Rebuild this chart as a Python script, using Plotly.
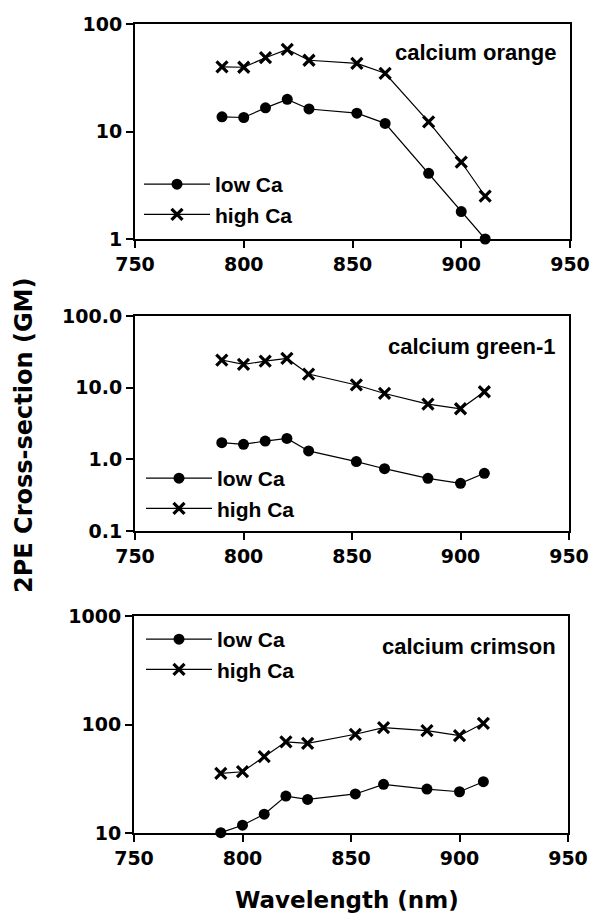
import plotly.graph_objects as go

# Excitation wavelengths (nm)
wavelength = [790, 800, 810, 820, 830, 852, 865, 885, 900, 911]

# Two-photon cross-sections (GM) for each indicator
orange_low = [13.7, 13.5, 16.6, 19.9, 16.2, 14.8, 11.9, 4.08, 1.8, 1.0]
orange_high = [40, 39.6, 48.6, 58, 46, 43, 34.8, 12.3, 5.2, 2.5]
green_low = [1.71, 1.62, 1.80, 1.96, 1.31, 0.93, 0.74, 0.543, 0.462, 0.638]
green_high = [24.3, 21.1, 23.5, 25.6, 15.5, 10.9, 8.3, 5.9, 5.08, 8.77]
crimson_low = [10.07, 11.8, 14.9, 21.9, 20.4, 22.9, 28.1, 25.4, 24.0, 29.7]
crimson_high = [35.5, 36.7, 50.5, 69.3, 67.1, 81.3, 93.5, 87.7, 78.9, 102.6]

panel_names = ["calcium orange", "calcium green-1", "calcium crimson"]
series_names = ["low Ca", "high Ca"]

x_ticks = [750, 800, 850, 900, 950]
y_ticks_orange = [1, 10, 100]
y_labels_orange = ["1", "10", "100"]
y_ticks_green = [0.1, 1, 10, 100]
y_labels_green = ["0.1", "1.0", "10.0", "100.0"]
y_ticks_crimson = [10, 100, 1000]
y_labels_crimson = ["10", "100", "1000"]

W, H = 595, 922


def fx(px):
    return px / W


def fy(px):
    return 1 - px / H


TICK_FONT = dict(family="DejaVu Sans", size=19, color="black", weight="bold")
TEXT_FONT = dict(family="Liberation Sans, Arial", size=22, color="black", weight="bold")
LEGEND_FONT = dict(family="Liberation Sans, Arial", size=21, color="black", weight="bold")

# pixel boxes of the three plot areas (left, right, top, bottom)
boxes = [(135, 570, 24, 239), (135, 569, 316, 531), (134, 568, 616, 833)]
data = [(orange_low, orange_high), (green_low, green_high), (crimson_low, crimson_high)]
yticks = [(y_ticks_orange, y_labels_orange, [0, 2]),
          (y_ticks_green, y_labels_green, [-1, 2]),
          (y_ticks_crimson, y_labels_crimson, [1, 3])]
legend_pos = [(139, 164), (141, 458), (141, 619)]
label_pos = [(558, 53), (558, 346), (558, 646)]

fig = go.Figure()
layout = dict(
    width=W, height=H,
    margin=dict(l=0, r=0, t=0, b=0, autoexpand=False),
    paper_bgcolor="white", plot_bgcolor="white",
    annotations=[],
)

for i, ((low, high), (tv, tt, yr), box) in enumerate(zip(data, yticks, boxes)):
    n = "" if i == 0 else str(i + 1)
    leg = "legend" + n
    xa, ya = "x" + n, "y" + n
    fig.add_trace(go.Scatter(
        x=wavelength, y=low, name=series_names[0], mode="lines+markers",
        xaxis=xa, yaxis=ya, legend=leg, cliponaxis=False,
        line=dict(color="black", width=1.2),
        marker=dict(symbol="circle", size=11, color="black"),
    ))
    fig.add_trace(go.Scatter(
        x=wavelength, y=high, name=series_names[1], mode="lines+markers",
        xaxis=xa, yaxis=ya, legend=leg, cliponaxis=False,
        line=dict(color="black", width=1.2),
        marker=dict(symbol="x-thin", size=11, color="black",
                    line=dict(color="black", width=3.2)),
    ))
    l, r, t, b = box
    layout["xaxis" + n] = dict(
        domain=[fx(l), fx(r)], anchor=ya, range=[750, 950], automargin=False,
        tickvals=x_ticks, ticks="outside", ticklen=7, tickwidth=2,
        tickcolor="black", showline=True, linecolor="black", linewidth=2,
        mirror=True, showgrid=False, zeroline=False, tickfont=TICK_FONT,
    )
    layout["yaxis" + n] = dict(
        domain=[fy(b), fy(t)], anchor=xa, type="log", range=yr, automargin=False,
        tickvals=tv, ticktext=tt, ticks="outside", ticklen=7, tickwidth=2,
        tickcolor="black", showline=True, linecolor="black", linewidth=2,
        mirror=True, showgrid=False, zeroline=False, tickfont=TICK_FONT,
    )
    lx, ly = legend_pos[i]
    layout[leg] = dict(
        x=fx(lx), y=fy(ly), xanchor="left", yanchor="top",
        font=LEGEND_FONT, bgcolor="rgba(0,0,0,0)", borderwidth=0,
        itemwidth=66, tracegroupgap=0,
    )
    ax, ay = label_pos[i]
    layout["annotations"].append(dict(
        text=panel_names[i], x=fx(ax), y=fy(ay), xref="paper", yref="paper",
        xanchor="right", yanchor="middle", showarrow=False, font=TEXT_FONT,
    ))

layout["annotations"].append(dict(
    text="2PE Cross-section (GM)", x=fx(24), y=fy(436), xref="paper", yref="paper",
    xanchor="center", yanchor="middle", textangle=-90, showarrow=False,
    font=dict(family="DejaVu Sans", size=24, color="black", weight="bold"),
))
layout["annotations"].append(dict(
    text="Wavelength (nm)", x=fx(347), y=fy(900), xref="paper", yref="paper",
    xanchor="center", yanchor="middle", showarrow=False,
    font=dict(family="DejaVu Sans", size=23, color="black", weight="bold"),
))

fig.update_layout(**layout)
fig.write_html("out.html")
